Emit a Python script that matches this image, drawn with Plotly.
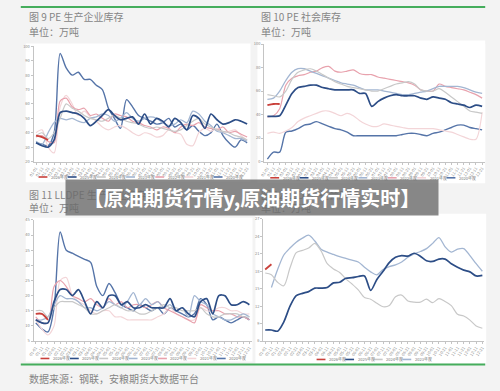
import plotly.graph_objects as go

W, H = 500, 391

x_labels = ["01-01","01-11","01-21","02-01","02-11","02-21","03-01","03-11","03-21",
            "04-01","04-11","04-21","05-01","05-11","05-21","06-01","06-11","06-21",
            "07-01","07-11","07-21","08-01","08-11","08-21","09-01","09-11","09-21",
            "10-01","10-11","10-21","11-01","11-11","11-21","12-01","12-11","12-21"]

years = ["2026年度", "2025年度", "2024年度", "2023年度", "2022年度", "2021年度", "2020年度"]

# 图9 PE 生产企业库存 (万吨)
tl_2026 = [38, 37, 35]
tl_2025 = [33,31,30,35,54,55,54,53,50,45,48,52,56,52,49,50,51,46,53,46,50,48,44,50,47,42,52,50,43,53,49,46,47,49,48,46]
tl_2024 = [38,40,36,40,50,60,57,55,52,50,49,48,50,52,50,48,47,46,44,43,44,43,42,41,42,45,48,50,46,44,42,41,40,38,37,35]
tl_2023 = [34,32,40,47,50,49,50,48,47,50,51,53,52,48,50,54,50,48,50,51,50,47,45,46,49,47,55,53,48,45,41,40,38,36,36,34]
tl_2022 = [37,38,34,33,62,64,58,56,57,52,53,50,48,53,52,51,48,47,45,44,42,44,43,40,44,46,45,47,44,43,42,44,40,41,39,37]
tl_2021 = [40,42,30,26,58,66,60,52,55,51,48,44,42,44,45,43,40,38,40,39,37,38,42,40,39,32,31,40,43,41,43,40,41,42,38,35]
tl_2020 = [33,32,31,40,95,85,80,82,77,77,73,70,57,50,43,63,58,52,50,48,46,47,50,44,46,42,45,41,38,40,46,38,33,30,35,33]

# 图10 PE 社会库存 (万吨)
tr_2026 = [48, 49, 49]
tr_2025 = [38.5,38.5,39,48,58,63,64,65,65,63,62,61,61,61,61,58,58,47,51,54,56,57,56,56,56,54,53,55,54,53,50,49,48,46,48,47]
tr_2024 = [57,56,55,60,70,76,78,79,77,74,71,68,66,64,63,62,61,60,60,62,64,66,67,68,66,61,60,60,62,59,55,51,47,43,42,41]
tr_2023 = [53,54,60,69,76,79,79,77,75,73,71,69,67,66,65,63,61,61,61,60,59,58,57,57,58,59,60,62,64,64,64,64,63,61,59,58]
tr_2022 = [38,39,45,65,71,73,74,76,77,80,81,77,76,77,78,75,74,74,72,71,70,69,68,67,65,61,60,60,66,64,63,62,61,59,57,54]
tr_2021 = [24,25,24,26,29,34,37,39,41,43,43,41,39,41,39,35,32,30,30,32,31,30,29,28,28,28,28,28,27,26,25,23,21,19,19,42]
tr_2020 = [2,8,8,25,26,28,31,32,34,32,30,28,27,25,22,22,22,22,22,22,22,22,23,24,24,23,22,24,25,27,29,31,31,29,28,27]

# 图11 LLDPE 生产企业库存 (万吨)
bl_2026 = [14, 14, 12]
bl_2025 = [12,11,11,18,22,22,20,22,18,14,18,16,20,20,17,18,16,16,17,16,16,16,19,15,16,14,13,18,19,14,20,20,17,17,18,17]
bl_2024 = [15,15,13,16,18,18,18,17,16,14,14,15,16,17,16,15,15,14,14,15,16,17,16,16,15,15,15,16,14,13,13,14,14,14,13,13]
bl_2023 = [12,12,13,17,20,19,19,18,16,16,15,16,18,17,16,18,21,17,19,17,18,16,17,15,16,13,20,18,17,14,13,12,12,13,14,13]
bl_2022 = [13,11,11,23,25,23,20,19,18,19,17,16,19,17,18,16,17,17,16,17,18,16,15,14,13,12,11,17,16,15,15,14,14,13,13,12]
bl_2021 = [12,9,7,10,25,26,20,18,17,15,14,15,15,13,13,12,12,12,12,12,13,14,16,14,13,12,12,16,15,15,16,16,15,15,14,14]
bl_2020 = [11,9,8,16,41,35,34,33,32,31,23,20,24,21,17,16,15,17,16,15,16,14,16,15,14,13,14,19,17,12,13,12,11,12,13,12]

# 图12 LLDPE 社会库存 (万吨)
br_2026 = [18.3, 19.2]
br_2025 = [7.9,7.9,7.7,9.3,12.0,13.8,14.2,14.5,15.1,15.1,15.2,16.0,16.1,16.8,16.9,17.1,17.2,14.7,16.6,18.0,19.5,20.4,20.7,20.6,21.1,20.6,19.8,19.7,20.1,20.1,19.3,18.7,18.2,17.9,17.2,17.3]
br_2024 = [17.7,17.4,16.1,15.5,18.6,21.2,21.6,22.0,22.8,21.5,19.3,18.4,17.8,16.7,15.8,14.8,13.5,13.2,12.5,11.9,12.1,13.6,13.9,12.9,12.7,12.7,13.2,12.6,13.3,12.8,12.1,10.6,10.3,9.6,8.6,8.2]
br_2023 = [None,15.2,18.3,20.8,22.0,23.0,23.7,24.2,23.2,21.8,21.3,20.9,20.5,20.2,19.9,19.6,18.7,17.9,17.4,18.3,18.8,19.1,19.6,20.4,21.0,21.4,21.9,22.8,23.8,22.2,21.3,21.8,21.9,20.7,19.3,18.0]

colors = {"2026年度": "#c9403a", "2025年度": "#2c4d86", "2024年度": "#c8c8c8",
          "2023年度": "#a3b6d2", "2022年度": "#e8a2ad", "2021年度": "#f3d5d8",
          "2020年度": "#5574a8"}
widths = {"2026年度": 1.8, "2025年度": 1.7, "2024年度": 1.2, "2023年度": 1.3,
          "2022年度": 1.2, "2021年度": 1.2, "2020年度": 1.4}

panels = [
    dict(dx=(28, 247), dy=(160, 43), xr=(-0.4, 35.4), yr=(20, 100), dt=10,
         series=[("2026年度", tl_2026), ("2025年度", tl_2025), ("2024年度", tl_2024), ("2023年度", tl_2023),
                 ("2022年度", tl_2022), ("2021年度", tl_2021), ("2020年度", tl_2020)],
         leg=(33, 29.6, 175.7)),
    dict(dx=(262, 486), dy=(160, 40.7), xr=(-0.5, 35.5), yr=(0, 100), dt=20,
         series=[("2026年度", tr_2026), ("2025年度", tr_2025), ("2024年度", tr_2024), ("2023年度", tr_2023),
                 ("2022年度", tr_2022), ("2021年度", tr_2021), ("2020年度", tr_2020)],
         leg=(268, 29.8, 176.5)),
    dict(dx=(28, 249), dy=(342.3, 219.3), xr=(-0.35, 35.35), yr=(5, 45), dt=5,
         series=[("2026年度", bl_2026), ("2025年度", bl_2025), ("2024年度", bl_2024), ("2023年度", bl_2023),
                 ("2022年度", bl_2022), ("2021年度", bl_2021), ("2020年度", bl_2020)],
         leg=(35, 29.8, 360)),
    dict(dx=(261, 485), dy=(342.3, 218.3), xr=(-0.3, 35.3), yr=(6, 27), dt=3,
         series=[("2026年度", br_2026), ("2025年度", br_2025), ("2024年度", br_2024), ("2023年度", br_2023)],
         leg=(315, 29, 361)),
]

FONT = "Noto Sans CJK SC"
def fx(x): return x / W
def fy(y): return 1 - y / H

fig = go.Figure()
layout = dict(width=W, height=H, autosize=False, margin=dict(l=0, r=0, t=0, b=0),
              paper_bgcolor="#f3f3f3", plot_bgcolor="white", showlegend=False,
              font=dict(family=FONT))
shapes = []
annotations = []

# white chart boxes
for (x0, y0, x1, y1) in [(20, 40, 248, 181), (255, 37, 486, 182), (20, 217, 250, 363), (253, 213, 487, 365)]:
    shapes.append(dict(type="rect", xref="paper", yref="paper", x0=fx(x0), x1=fx(x1), y0=fy(y1), y1=fy(y0),
                       fillcolor="white", line=dict(width=0), layer="below"))
# green rules
for yy in (3, 366):
    shapes.append(dict(type="line", xref="paper", yref="paper", x0=fx(15), x1=fx(486), y0=fy(yy), y1=fy(yy),
                       line=dict(color="#45ad5c", width=2)))

for k, p in enumerate(panels):
    sfx = "" if k == 0 else str(k + 1)
    xa, ya = "xaxis" + sfx, "yaxis" + sfx
    layout[xa] = dict(domain=[fx(p["dx"][0]), fx(p["dx"][1])], anchor="y" + sfx, type="category",
                      categoryorder="array", categoryarray=x_labels, range=list(p["xr"]),
                      tickmode="array", tickvals=x_labels, ticktext=x_labels, tickangle=-55,
                      tickfont=dict(size=4, color="#888888"), showline=True, linecolor="#c4c4c4",
                      linewidth=1, ticks="outside", ticklen=2, tickcolor="#c4c4c4",
                      showgrid=False, zeroline=False, fixedrange=True)
    layout[ya] = dict(domain=[fy(p["dy"][0]), fy(p["dy"][1])], anchor="x" + sfx, range=list(p["yr"]),
                      tickmode="linear", tick0=p["yr"][0], dtick=p["dt"],
                      tickfont=dict(size=4, color="#888888"), showline=True, linecolor="#c4c4c4",
                      linewidth=1, ticks="outside", ticklen=2, tickcolor="#c4c4c4",
                      showgrid=False, zeroline=False, fixedrange=True)
    # draw older years first so recent ones are on top
    for name, vals in reversed(p["series"]):
        fig.add_trace(go.Scatter(x=x_labels[:len(vals)], y=vals, mode="lines", name=name,
                                 line=dict(color=colors[name], width=widths[name], shape="spline", smoothing=0.8),
                                 xaxis="x" + sfx, yaxis="y" + sfx, connectgaps=False, hoverinfo="skip"))
    # legend
    lx0, ldx, ly = p["leg"]
    for j, (name, _) in enumerate(p["series"]):
        x0 = lx0 + j * ldx
        shapes.append(dict(type="line", xref="paper", yref="paper", x0=fx(x0), x1=fx(x0 + 9),
                           y0=fy(ly), y1=fy(ly), line=dict(color=colors[name], width=1.6)))
        annotations.append(dict(text=name, xref="paper", yref="paper", x=fx(x0 + 10.5), y=fy(ly),
                                xanchor="left", yanchor="middle", showarrow=False,
                                font=dict(size=4, color="#777777", family=FONT)))

texts = [("图 9 PE 生产企业库存", 21, 13), ("单位：万吨", 21, 28),
         ("图 10 PE 社会库存", 257, 13), ("单位：万吨", 257, 28),
         ("图 11 LLDPE 生产企业库存", 21, 193), ("单位：万吨", 21, 207),
         ("图 12 LLDPE 社会库存", 257, 193), ("单位：万吨", 257, 207),
         ("数据来源：钢联，安粮期货大数据平台", 21, 380)]
for t, x, y in texts:
    annotations.append(dict(text=t, xref="paper", yref="paper", x=fx(x), y=fy(y), xanchor="left",
                            yanchor="middle", showarrow=False, font=dict(size=10, color="#858585", family=FONT)))

# overlay banner (drawn last so it covers the titles beneath it)
annotations.append(dict(text="<b>【原油期货行情y,原油期货行情实时】</b>", xref="paper", yref="paper",
                        x=fx(249), y=fy(196.5), xanchor="center", yanchor="middle", showarrow=False,
                        width=372, height=35, borderpad=0, bgcolor="rgba(108,108,108,0.8)",
                        font=dict(size=20, color="white", family=FONT)))

layout["shapes"] = shapes
layout["annotations"] = annotations
fig.update_layout(**layout)
fig.write_html("out.html")
